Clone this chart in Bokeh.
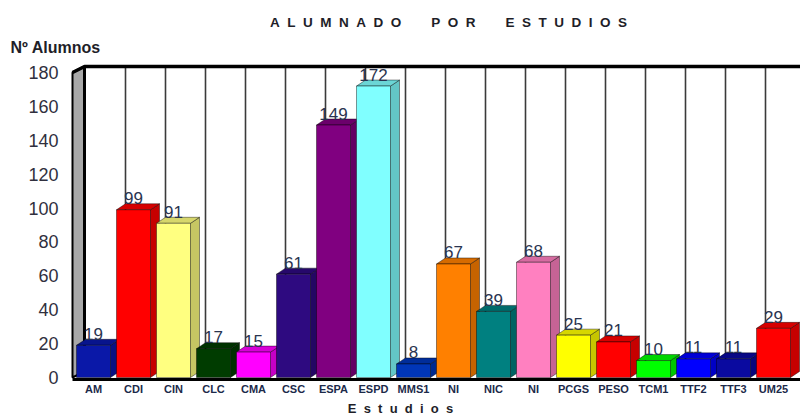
from bokeh.plotting import figure
from bokeh.models import Range1d, FixedTicker, Label, AllLabels
from bokeh.embed import file_html
from bokeh.resources import INLINE
from bokeh.core.properties import value

# ---------------- data ----------------
categories = ["AM", "CDI", "CIN", "CLC", "CMA", "CSC", "ESPA", "ESPD", "MMS1",
              "NI", "NIC", "NI", "PCGS", "PESO", "TCM1", "TTF2", "TTF3", "UM25"]
students = [19, 99, 91, 17, 15, 61, 149, 172, 8, 67, 39, 68, 25, 21, 10, 11, 11, 29]
colors = ["#0a18a8", "#ff0000", "#ffff80", "#003c00", "#ff00ff", "#2e0a80",
          "#800080", "#80ffff", "#0036b8", "#ff8000", "#008080", "#ff80c0",
          "#ffff00", "#ff0000", "#00ff00", "#0000ff", "#0a0aa0", "#ff0000"]
y_ticks = [0, 20, 40, 60, 80, 100, 120, 140, 160, 180]
title_text = "ALUMNADO POR ESTUDIOS"
y_title = "Nº Alumnos"
x_title = "Estudios"

FONT = "Liberation Sans"
NB = "\u00a0"


def spaced(s, gap=2, word_gap=8):
    return (NB * word_gap).join((NB * gap).join(w) for w in s.split(" "))


def shade(hex_color, f):
    h = hex_color.lstrip("#")
    r, g, b = (int(h[i:i + 2], 16) for i in (0, 2, 4))
    return "#%02x%02x%02x" % (int(r * f), int(g * f), int(b * f))


# ---------------- geometry (figure pixels; frame = whole figure) ----------------
W, H = 800, 418
X0, STEP = 93, 40            # category 0 position and spacing
Y0, PX = 377, 305 / 180      # y=0 position and px per unit


def ux(px):
    return px / STEP


def uy(px):
    return px / PX


def dxp(fx):   # figure x pixel -> data x
    return (fx - X0) / STEP


def dyp(fy):   # figure y pixel -> data y
    return (Y0 - fy) / PX


x_start, x_end = dxp(0), dxp(W)
p = figure(width=W, height=H, output_backend="svg", toolbar_location=None, title=None,
           x_range=Range1d(x_start, x_end), y_range=Range1d(dyp(H), dyp(0)),
           min_border_left=0, min_border_right=0, min_border_top=0, min_border_bottom=0)
p.xgrid.visible = False
p.ygrid.visible = False
p.outline_line_color = None
p.background_fill_color = "white"
p.border_fill_color = "white"

n = len(categories)
idx = list(range(n))
top = y_ticks[-1]

# ---------------- walls ----------------
wall_x = dxp(72)
wdx, wdy = ux(12), uy(6)
sep_x = [i + 0.5 + wdx for i in range(n - 1)]
p.segment(x0=sep_x, y0=[wdy] * len(sep_x), x1=sep_x, y1=[top + wdy] * len(sep_x),
          line_color="#3a3a3a", line_width=1.6)
p.patch([wall_x, wall_x, wall_x + wdx, wall_x + wdx], [0, top, top + wdy, wdy],
        fill_color="#a8a8a8", line_color="black", line_width=2)
p.segment(x0=[wall_x + wdx], y0=[wdy], x1=[wall_x + wdx], y1=[top + wdy],
          line_color="black", line_width=3)
p.line([wall_x, wall_x + wdx, x_end], [top, top + wdy, top + wdy],
       line_color="black", line_width=3.5)

# ---------------- 3D bars ----------------
hw, bdx, bdy = ux(17), ux(9), uy(6)
side_xs = [[i + hw, i + hw + bdx, i + hw + bdx, i + hw] for i in idx]
side_ys = [[0, bdy, v + bdy, v] for v in students]
top_xs = [[i - hw, i - hw + bdx, i + hw + bdx, i + hw] for i in idx]
top_ys = [[v, v + bdy, v + bdy, v] for v in students]
p.patches(side_xs, side_ys, fill_color=[shade(c, 0.78) for c in colors],
          line_color="black", line_width=0.6, line_alpha=0.7)
p.patches(top_xs, top_ys, fill_color=[shade(c, 0.84) for c in colors],
          line_color="black", line_width=0.6, line_alpha=0.7)
p.quad(left=[i - hw for i in idx], right=[i + hw for i in idx], bottom=0, top=students,
       fill_color=colors, line_color="black", line_width=0.6, line_alpha=0.7)

# floor edge
p.line([wall_x, x_end], [-uy(2), -uy(2)], line_color="black", line_width=3)

# value labels
p.text(x=idx, y=[v + uy(11.5) for v in students], text=[str(v) for v in students],
       text_align="center", text_baseline="alphabetic", text_font=value(FONT),
       text_font_size="17px", text_color="#2a3450")

# ---------------- axes (fixed inside the frame) ----------------
ya = p.yaxis[0]
ya.fixed_location = wall_x
ya.ticker = FixedTicker(ticks=y_ticks)
ya.major_label_text_font = FONT
ya.major_label_text_font_size = "18px"
ya.major_label_text_color = "#30303e"
ya.major_label_standoff = 14
ya.major_tick_out = 0
ya.major_tick_in = 0
ya.minor_tick_out = 0
ya.minor_tick_in = 0
ya.axis_line_color = None

xa = p.xaxis[0]
xa.fixed_location = 0
xa.ticker = FixedTicker(ticks=idx)
xa.major_label_overrides = {i: c for i, c in enumerate(categories)}
xa.major_label_policy = AllLabels()
xa.major_label_text_font = FONT
xa.major_label_text_font_size = "11px"
xa.major_label_text_font_style = "bold"
xa.major_label_text_color = "#1c2a4a"
xa.major_label_standoff = 5
xa.major_tick_out = 0
xa.major_tick_in = 0
xa.minor_tick_out = 0
xa.minor_tick_in = 0
xa.axis_line_color = None
xa.axis_label = spaced(x_title, gap=2)
xa.axis_label_text_font = FONT
xa.axis_label_text_font_size = "13px"
xa.axis_label_text_font_style = "bold"
xa.axis_label_text_color = "#1e1e28"
xa.axis_label_standoff = 3

# ---------------- titles ----------------
p.add_layout(Label(x=dxp(448), y=dyp(22), text=spaced(title_text),
                   text_align="center", text_baseline="alphabetic", text_font=FONT,
                   text_font_size="13.5px", text_font_style="bold", text_color="#1e1e28"))
p.add_layout(Label(x=dxp(10), y=dyp(47), text=y_title,
                   text_align="left", text_baseline="alphabetic", text_font=FONT,
                   text_font_size="16px", text_font_style="bold", text_color="#1e1e28"))

open("out.html", "w").write(file_html(p, INLINE))
